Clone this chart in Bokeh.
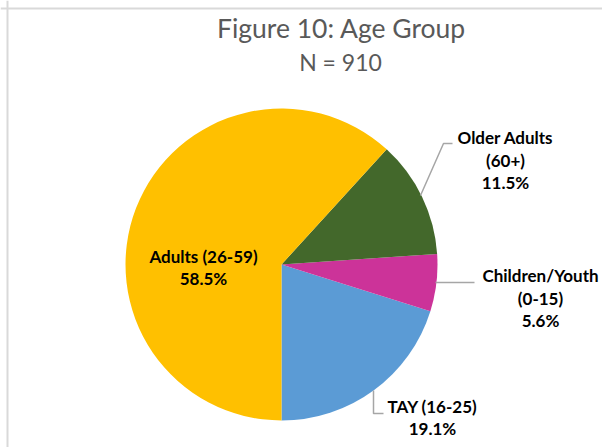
import math
from bokeh.plotting import figure
from bokeh.models import Range1d, Span
from bokeh.core.properties import value
from bokeh.embed import file_html
from bokeh.resources import INLINE

# ---- data ----
categories = ["TAY (16-25)", "Children/Youth (0-15)", "Older Adults (60+)", "Adults (26-59)"]
percents = [19.1, 5.6, 11.5, 58.5]
colors = ["#5B9BD5", "#CC3399", "#43682B", "#FFC000"]
label_lines = [
    ["TAY (16-25)", "19.1%"],
    ["Children/Youth", "(0-15)", "5.6%"],
    ["Older Adults", "(60+)", "11.5%"],
    ["Adults (26-59)", "58.5%"],
]
title_text = "Figure 10: Age Group"
subtitle_text = "N = 910"

W, H = 602, 447


def px(X, Y):
    """image pixel -> data coordinate (1 data unit = 1 px)"""
    return X, H - Y


p = figure(width=W, height=H, output_backend="svg", toolbar_location=None,
           x_range=Range1d(0, W), y_range=Range1d(0, H),
           x_axis_type=None, y_axis_type=None, min_border=0,
           outline_line_color=None, background_fill_color="white")
p.grid.visible = False

# border (top and left)
p.add_layout(Span(location=H - 8, dimension="width", line_color="#D9D9D9", line_width=2))
p.add_layout(Span(location=7, dimension="height", line_color="#D9D9D9", line_width=2))

# pie
cx, cy = px(281, 264)
r = 156
total = sum(percents)
start = -math.pi / 2
starts, ends = [], []
for v in percents:
    a = v / total * 2 * math.pi
    starts.append(start)
    ends.append(start + a)
    start += a
p.wedge(x=[cx] * 4, y=[cy] * 4, radius=r, start_angle=starts, end_angle=ends,
        fill_color=colors, line_color=None)

# titles
tx, ty = px(341, 27)
p.text(x=[tx], y=[ty], text=[title_text], text_align="center", text_baseline="alphabetic",
       text_font=value("Lato"), text_font_size="26.5px", text_color="#595959")
sx, sy = px(340, 61)
p.text(x=[sx], y=[sy], text=[subtitle_text], text_align="center", text_baseline="alphabetic",
       text_font=value("Lato"), text_font_size="23px", text_color="#595959")

# label positions (image px: center x, first baseline y, line spacing)
label_pos = [(432, 406, 22), (540, 275, 22.5), (505, 137, 22.6), (203, 256, 22)]
for lines, (lx, ly, ls) in zip(label_lines, label_pos):
    xs, ys = [], []
    for i, t in enumerate(lines):
        x, y = px(lx, ly + i * ls)
        xs.append(x)
        ys.append(y)
    p.text(x=xs, y=ys, text=lines, text_align="center", text_baseline="alphabetic",
           text_font=value("Lato"), text_font_size="17px", text_font_style="bold",
           text_color="#000000")

# leader lines
leaders = [
    [(373, 390), (373, 413), (383, 413)],
    [(435, 282), (474, 282)],
    [(420, 195), (443, 143), (452, 143)],
]
for pts in leaders:
    conv = [px(a, b) for a, b in pts]
    p.line(x=[c[0] for c in conv], y=[c[1] for c in conv], line_color="#A6A6A6", line_width=1.5)

open("out.html", "w").write(file_html(p, INLINE))
